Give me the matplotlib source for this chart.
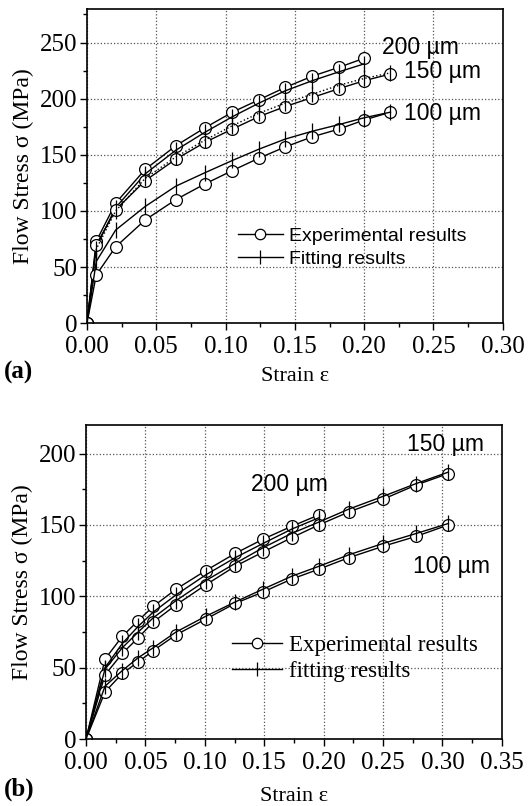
import numpy as np
import matplotlib
matplotlib.use("Agg")
import matplotlib.pyplot as plt
from matplotlib.lines import Line2D

# ---- panel (a) data ----
a_strain = [0.0, 0.0067, 0.0207, 0.042, 0.064, 0.085, 0.105, 0.124, 0.143, 0.1625, 0.182, 0.200, 0.219]
a_exp_200 = [0, 73, 107, 137, 158, 174, 188, 199, 210, 220, 228, 236]
a_fit_200 = [0, 68, 103, 133, 154, 170, 184, 196, 207, 216, 224, 231]
a_exp_150 = [0, 70, 101, 127, 146, 161, 173, 184, 193, 201, 209, 216, 222]
a_fit_150 = [0, 66, 100, 129, 148, 163, 176, 187, 196, 204, 212, 218, 223]
a_exp_100 = [0, 43, 68, 92, 110, 124, 136, 147, 157, 166, 173, 181, 188]
a_fit_100 = [0, 55, 83, 104, 122, 134, 145, 155, 164, 171, 177, 183, 188]

# ---- panel (b) data ----
b_strain = [0.0, 0.016, 0.0306, 0.044, 0.0567, 0.0758, 0.1008, 0.1255, 0.149, 0.173, 0.196,
            0.221, 0.250, 0.278, 0.305]
b_exp_200 = [0, 56, 72, 83, 93, 105, 118, 130, 140, 149, 157]
b_fit_200 = [0, 50, 67, 79, 89, 101, 115, 127, 137, 147, 155]
b_exp_150 = [0, 45, 60, 71, 82, 94, 108, 121, 131, 141, 150, 159, 168, 178, 186]
b_fit_150 = [0, 49, 64, 75, 85, 97, 111, 123, 134, 144, 152, 161, 170, 179, 187]
b_exp_100 = [0, 33, 46, 54, 62, 73, 84, 95, 103, 112, 119, 127, 135, 142, 150]
b_fit_100 = [0, 37, 48, 57, 64, 75, 86, 96, 105, 114, 121, 129, 137, 144, 151]

SERIF = ["Liberation Serif", "DejaVu Serif"]
SANS = ["Liberation Sans", "DejaVu Sans"]

plt.rcParams["font.family"] = SERIF

fig = plt.figure(figsize=(5.31, 8.06), dpi=100)
ax_a = fig.add_axes([0.1638, 0.599, 0.783, 0.390])
ax_b = fig.add_axes([0.162, 0.0831, 0.783, 0.3896])

exp_kw = dict(color="black", lw=1.0, marker="o", ms=8.5, mfc="white", mec="black", mew=0.9)
fit_kw = dict(color="black", lw=1.0, marker="|", ms=11, mew=0.9)


def style_axes(ax, xmax, ymax, xstep, ystep, xpad):
    xt = np.arange(0, xmax + 1e-9, xstep)
    yt = [v for v in np.arange(0, ymax + 1e-9, ystep) if v < ymax]
    ax.set_xlim(0, xmax)
    ax.set_ylim(0, ymax)
    ax.set_xticks(xt)
    ax.set_yticks(yt)
    ax.set_xticks(np.arange(xstep / 2, xmax, xstep), minor=True)
    ax.set_yticks(np.arange(ystep / 2, ymax, ystep), minor=True)
    ax.set_xticklabels([f"{v:.2f}" for v in xt])
    ax.set_yticklabels([f"{v:.0f}" for v in yt])
    ax.tick_params(which="major", direction="out", length=5, width=1, labelsize=18,
                   top=False, right=False, pad=2)
    ax.tick_params(axis="x", which="major", pad=4)
    ax.tick_params(which="minor", direction="out", length=3, width=1, top=False, right=False)
    ax.grid(True, which="major", ls=":", color="#555555", lw=0.9)
    for s in ax.spines.values():
        s.set_linewidth(1.2)
    ax.set_ylabel("Flow Stress σ (MPa)", fontsize=17, labelpad=4)
    ax.set_xlabel("Strain ε", fontsize=16, labelpad=xpad)


handles = [Line2D([], [], **dict(exp_kw, ms=7.5)), Line2D([], [], **dict(fit_kw, ms=10))]

# panel (a)
ax = ax_a
ax.plot(a_strain[:12], a_exp_200, **exp_kw)
ax.plot(a_strain[:12], a_fit_200, **fit_kw)
ax.plot(a_strain, a_exp_150, **exp_kw)
ax.plot(a_strain, a_fit_150, ls=":", **fit_kw)
ax.plot(a_strain, a_exp_100, **exp_kw)
ax.plot(a_strain, a_fit_100, **fit_kw)
style_axes(ax, 0.30, 280, 0.05, 50, 7)
ax.text(0.213, 246, "200 µm", family=SANS, fontsize=16.5, va="center")
ax.text(0.229, 224, "150 µm", family=SANS, fontsize=16.5, va="center")
ax.text(0.229, 187, "100 µm", family=SANS, fontsize=16.5, va="center")
ax.legend(handles, ["Experimental results", "Fitting results"], loc="center left",
          bbox_to_anchor=(0.363, 0.240), frameon=False, handlelength=2.3,
          handletextpad=0.35, labelspacing=0.3, borderpad=0, borderaxespad=0,
          prop={"family": SANS, "size": 14})
fig.text(0.008, 0.538, "(a)", fontsize=18, fontweight="bold", va="center")

# panel (b)
ax = ax_b
ax.plot(b_strain[:11], b_exp_200, **exp_kw)
ax.plot(b_strain[:11], b_fit_200, **fit_kw)
ax.plot(b_strain, b_exp_150, **exp_kw)
ax.plot(b_strain, b_fit_150, **fit_kw)
ax.plot(b_strain, b_exp_100, **exp_kw)
ax.plot(b_strain, b_fit_100, **fit_kw)
style_axes(ax, 0.35, 220, 0.05, 50, 10)
ax.text(0.270, 206, "150 µm", family=SANS, fontsize=16.5, va="center")
ax.text(0.139, 178, "200 µm", family=SANS, fontsize=16.5, va="center")
ax.text(0.275, 121, "100 µm", family=SANS, fontsize=16.5, va="center")
ax.legend(handles, ["Experimental results", "fitting results"], loc="center left",
          bbox_to_anchor=(0.351, 0.256), frameon=False, handlelength=2.2,
          handletextpad=0.3, labelspacing=0.2, borderpad=0, borderaxespad=0,
          prop={"family": SERIF, "size": 16.5})
fig.text(0.008, 0.021, "(b)", fontsize=18, fontweight="bold", va="center")

fig.savefig("out.png", dpi=100)
